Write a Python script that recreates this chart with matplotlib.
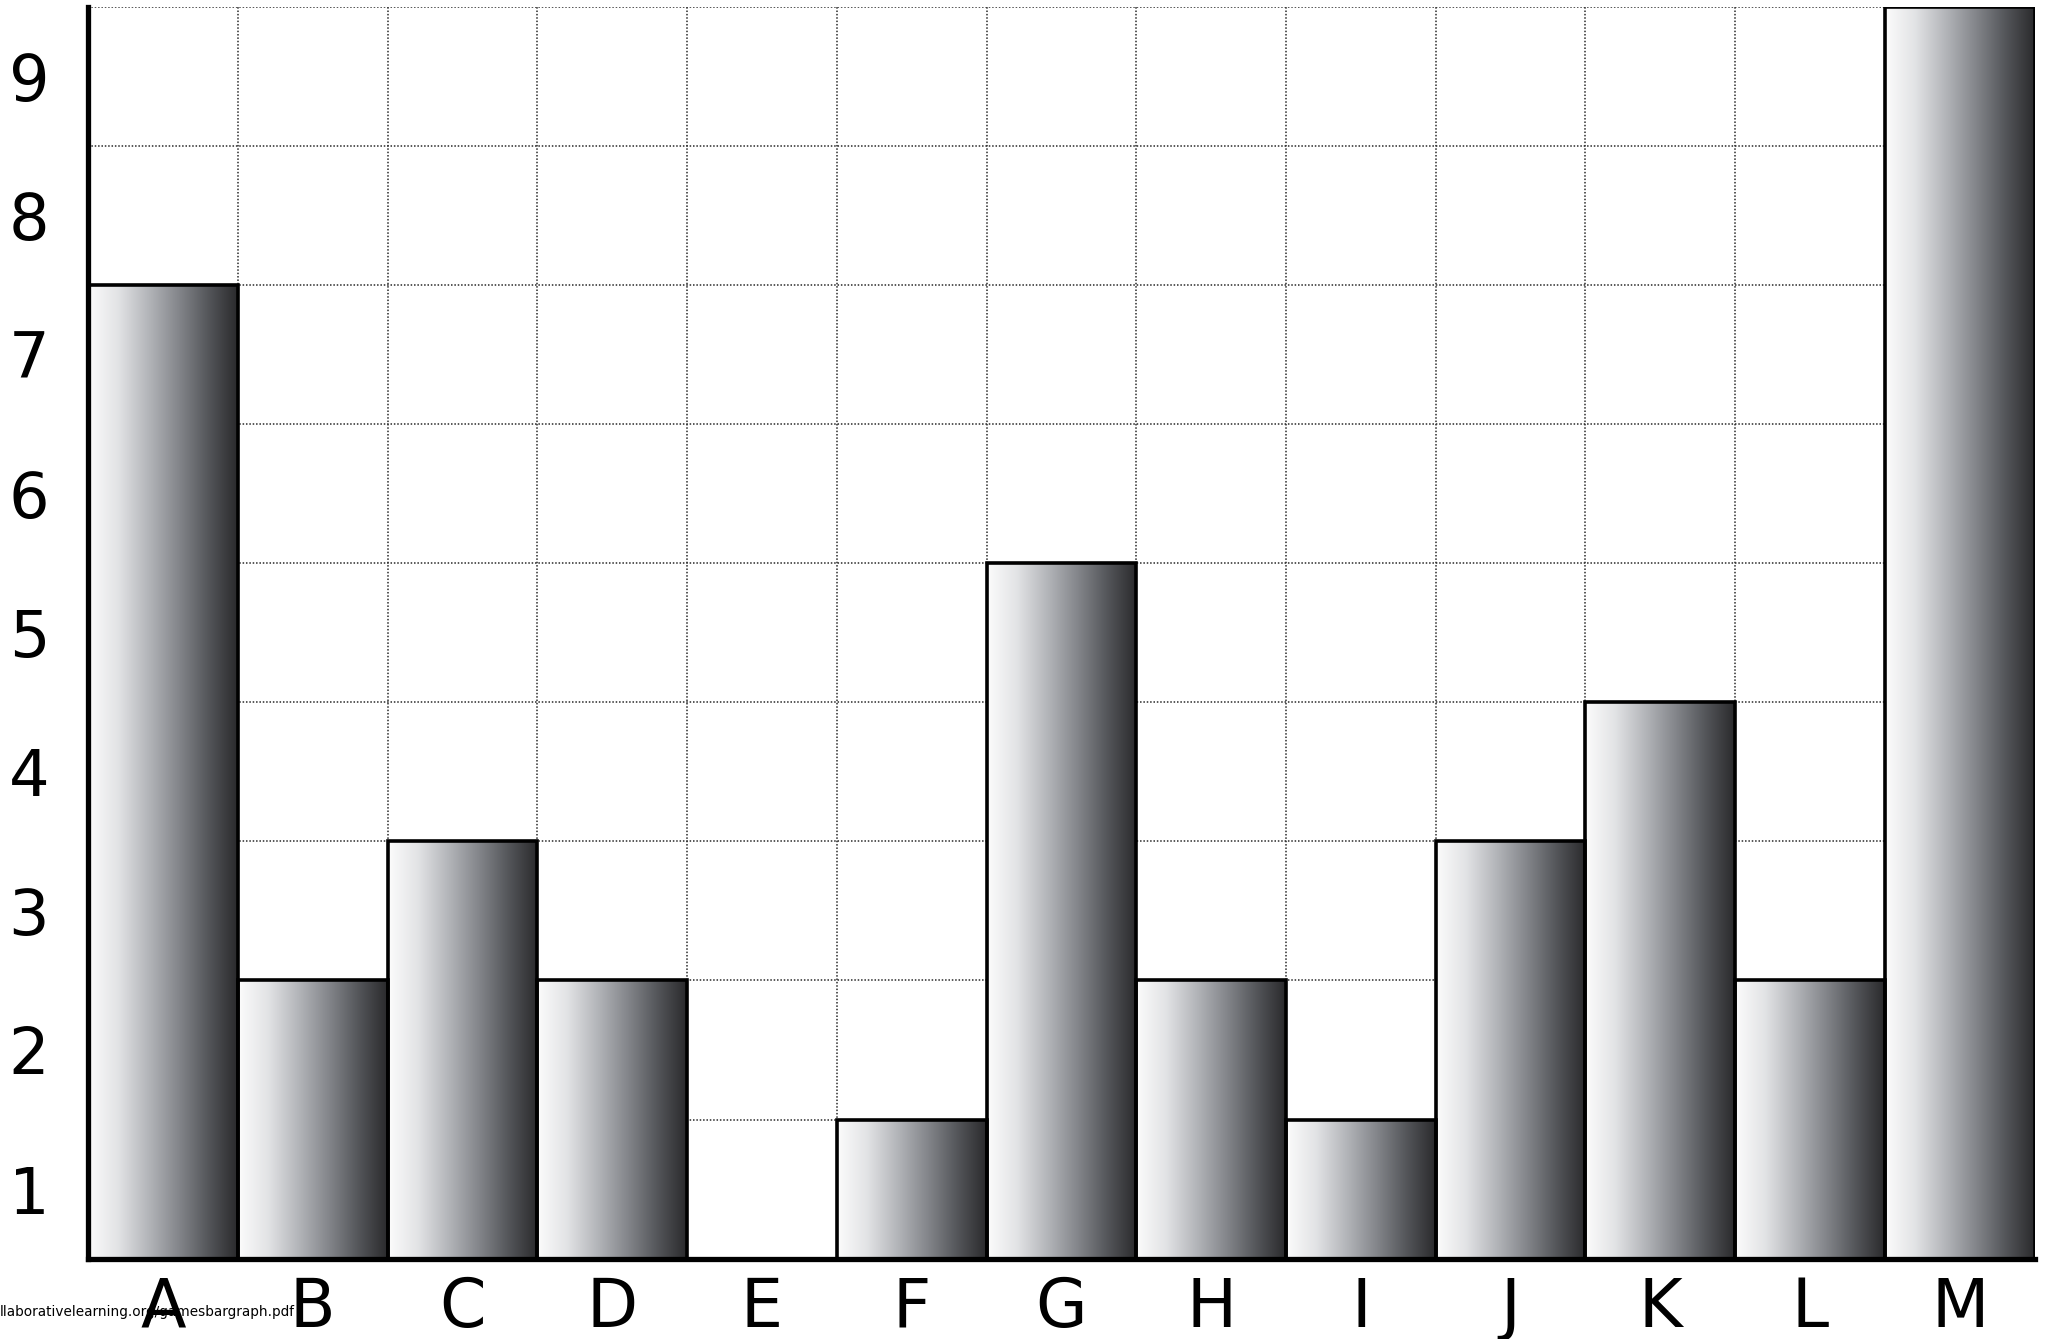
import numpy as np
import matplotlib
matplotlib.use('Agg')
import matplotlib.pyplot as plt
from matplotlib.colors import LinearSegmentedColormap

# bar data
categories = ['A', 'B', 'C', 'D', 'E', 'F', 'G', 'H', 'I', 'J', 'K', 'L', 'M']
values = [7, 2, 3, 2, 0, 1, 5, 2, 1, 3, 4, 2, 9]
y_labels = [1, 2, 3, 4, 5, 6, 7, 8, 9]
footer = 'llaborativelearning.org/gamesbargraph.pdf'

# white to dark grey shading across each bar
shade = LinearSegmentedColormap.from_list(
    'shade', ['#fcfcfc', '#e2e3e5', '#b4b6ba', '#85878c', '#55575b', '#2a2a2c'])

fig = plt.figure(figsize=(20.49, 13.39), dpi=100)
ax = fig.add_axes([0.043, 0.06, 0.95, 0.935])

x = np.arange(len(categories))
bars = ax.bar(x, values, width=1.0, facecolor='none', edgecolor='black',
              linewidth=2.6, zorder=3)

grad = np.linspace(0, 1, 256).reshape(1, -1)
for b in bars:
    if b.get_height() <= 0:
        continue
    ax.imshow(grad, cmap=shade, aspect='auto', interpolation='bicubic',
              extent=[b.get_x(), b.get_x() + b.get_width(), 0, b.get_height()],
              zorder=2)

ax.set_xlim(-0.5, len(categories) - 0.5)
ax.set_ylim(0, 9)

# dotted grid on the column and row lines
for xv in np.arange(len(categories)) + 0.5:
    ax.axvline(xv, color='#2a2a2a', linestyle=(0, (1, 1.2)), linewidth=1.1, zorder=1)
for yv in range(1, 10):
    ax.axhline(yv, color='#2a2a2a', linestyle=(0, (1, 1.2)), linewidth=1.1, zorder=1)

# labels sit in the middle of each row / column
ax.set_yticks(np.array(y_labels) - 0.5)
ax.set_yticklabels([str(v) for v in y_labels], fontsize=46)
ax.set_xticks(x)
ax.set_xticklabels(categories, fontsize=48)
ax.tick_params(axis='both', length=0)
ax.tick_params(axis='y', pad=28)
ax.tick_params(axis='x', pad=12)

for s in ['top', 'right']:
    ax.spines[s].set_visible(False)
ax.spines['left'].set_linewidth(3.8)
ax.spines['bottom'].set_linewidth(3.8)
ax.spines['bottom'].set_zorder(4)
ax.spines['left'].set_zorder(4)

fig.text(0.0, 0.02, footer, fontsize=9.8, ha='left', va='center')

fig.savefig('out.png', dpi=100)
